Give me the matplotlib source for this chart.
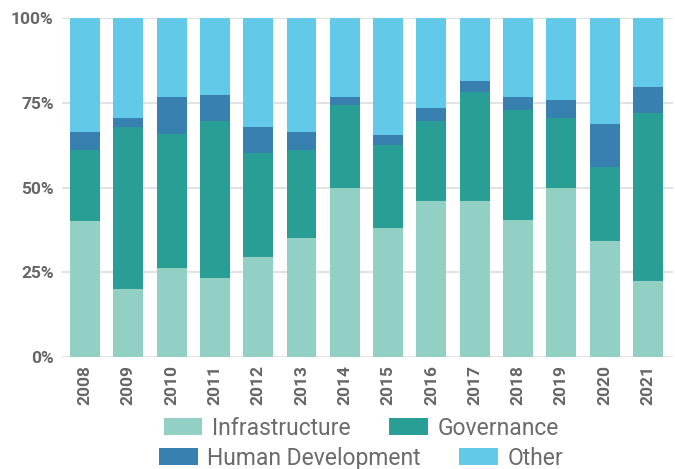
import matplotlib.pyplot as plt
from matplotlib.patches import Patch
import numpy as np

# -----------------------------
# Data (share of total, %)
# -----------------------------
years = ["2008", "2009", "2010", "2011", "2012", "2013", "2014",
         "2015", "2016", "2017", "2018", "2019", "2020", "2021"]

infrastructure = [40.0, 20.1, 26.3, 23.3, 29.5, 35.2, 50.0,
                  38.1, 46.1, 46.1, 40.5, 50.0, 34.3, 22.5]
governance = [21.2, 47.9, 39.6, 46.4, 30.8, 26.0, 24.4,
              24.5, 23.6, 32.2, 32.5, 20.6, 21.8, 49.6]
human_development = [5.3, 2.6, 10.9, 7.7, 7.7, 5.3, 2.4,
                     3.0, 3.9, 3.2, 3.8, 5.3, 12.7, 7.7]
other = [33.5, 29.4, 23.2, 22.6, 32.0, 33.5, 23.2,
         34.4, 26.4, 18.5, 23.2, 24.1, 31.2, 20.2]

series_names = ["Infrastructure", "Governance", "Human Development", "Other"]
colors = ["#93D0C4", "#289E94", "#3880B0", "#62C9E9"]

# -----------------------------
# Plot
# -----------------------------
fig = plt.figure(figsize=(6.75, 4.69), dpi=100)
ax = fig.add_axes([0.092, 0.239, 0.905, 0.722])

x = np.arange(len(years))
bottom = np.zeros(len(years))
for values, color in zip([infrastructure, governance, human_development, other], colors):
    ax.bar(x, values, bottom=bottom, width=0.69, color=color, zorder=3)
    bottom += np.array(values)

ax.set_xlim(-0.53, len(years) - 1 + 0.58)
ax.set_ylim(0, 100)
ax.set_yticks([0, 25, 50, 75, 100])
ax.set_yticklabels(["0%", "25%", "50%", "75%", "100%"])
ax.set_xticks(x)
ax.set_xticklabels(years, rotation=90)

ax.grid(axis="y", color="#DDDDDD", linewidth=1.2, zorder=0)
for spine in ax.spines.values():
    spine.set_visible(False)
ax.tick_params(length=0, colors="#666666", pad=6)
for lab in ax.get_yticklabels() + ax.get_xticklabels():
    lab.set_family(["Liberation Sans Narrow", "Roboto", "DejaVu Sans"])
    lab.set_fontweight("bold")
    lab.set_fontsize(12.5)

# legend: two rows, each centered on its own
handles = [Patch(facecolor=c, edgecolor="none") for c in colors]
legend_kw = dict(ncol=2, frameon=False, loc="center",
                 handlelength=1.7, handleheight=0.75, handletextpad=0.4,
                 columnspacing=1.7, labelcolor="#6B6B6B",
                 prop={"family": "Roboto", "size": 16.5})
fig.legend(handles[:2], series_names[:2],
           bbox_to_anchor=(0.535, 1 - 428 / 469), **legend_kw)
fig.legend(handles[2:], series_names[2:],
           bbox_to_anchor=(0.535, 1 - 458 / 469), **legend_kw)

fig.savefig("out.png", dpi=100)
